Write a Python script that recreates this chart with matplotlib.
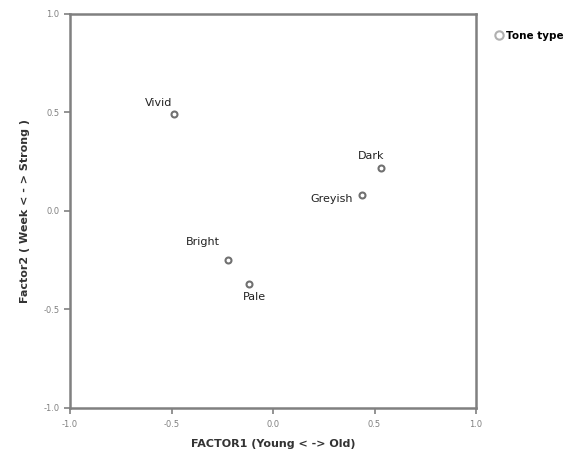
import matplotlib.pyplot as plt

tones = ['Vivid', 'Dark', 'Greyish', 'Bright', 'Pale']
factor1 = [-0.49, 0.53, 0.44, -0.22, -0.12]
factor2 = [0.49, 0.22, 0.08, -0.25, -0.37]
# label offsets in points (dx, dy)
offsets = [(-11, 8), (-7, 8.5), (-22, -3), (-18, 13), (4, -9.5)]

fig = plt.figure(figsize=(5.85, 4.61), dpi=100)
ax = fig.add_axes([0.1197, 0.115, 0.694, 0.855])

grey = '#808080'
ax.plot(factor1, factor2, 'o', ls='none', ms=4.3, mfc='white', mec='#707070',
        mew=1.5, label='Tone type')

for name, x, y, (dx, dy) in zip(tones, factor1, factor2, offsets):
    ax.annotate(name, (x, y), xytext=(dx, dy), textcoords='offset points',
                ha='center', va='center', fontsize=8, color='#222222')

ax.set_xlim(-1, 1)
ax.set_ylim(-1, 1)
ticks = [-1.0, -0.5, 0.0, 0.5, 1.0]
ax.set_xticks(ticks)
ax.set_yticks(ticks)
ax.set_xticklabels(['-1.0', '-0.5', '0.0', '0.5', '1.0'])
ax.set_yticklabels(['-1.0', '-0.5', '0.0', '0.5', '1.0'])
ax.tick_params(colors=grey, labelsize=6, length=4, width=1.2, direction='out')
ax.tick_params(axis='x', pad=5)
for s in ax.spines.values():
    s.set_color(grey)
    s.set_linewidth(1.8)

ax.set_xlabel('FACTOR1 (Young < -> Old)', fontsize=8, fontweight='bold',
              color='#333333', labelpad=7)
ax.set_ylabel('Factor2 ( Week < - > Strong )', fontsize=8, fontweight='bold',
              color='#333333', labelpad=10)

leg = ax.legend(loc='upper left', bbox_to_anchor=(1.02, 0.98), frameon=False,
                handletextpad=0.2, handlelength=1.0,
                prop={'weight': 'bold', 'size': 7.5})
leg.legend_handles[0].set_markeredgecolor('#b0b0b0')
leg.legend_handles[0].set_markersize(6)

plt.savefig('out.png', dpi=100)
